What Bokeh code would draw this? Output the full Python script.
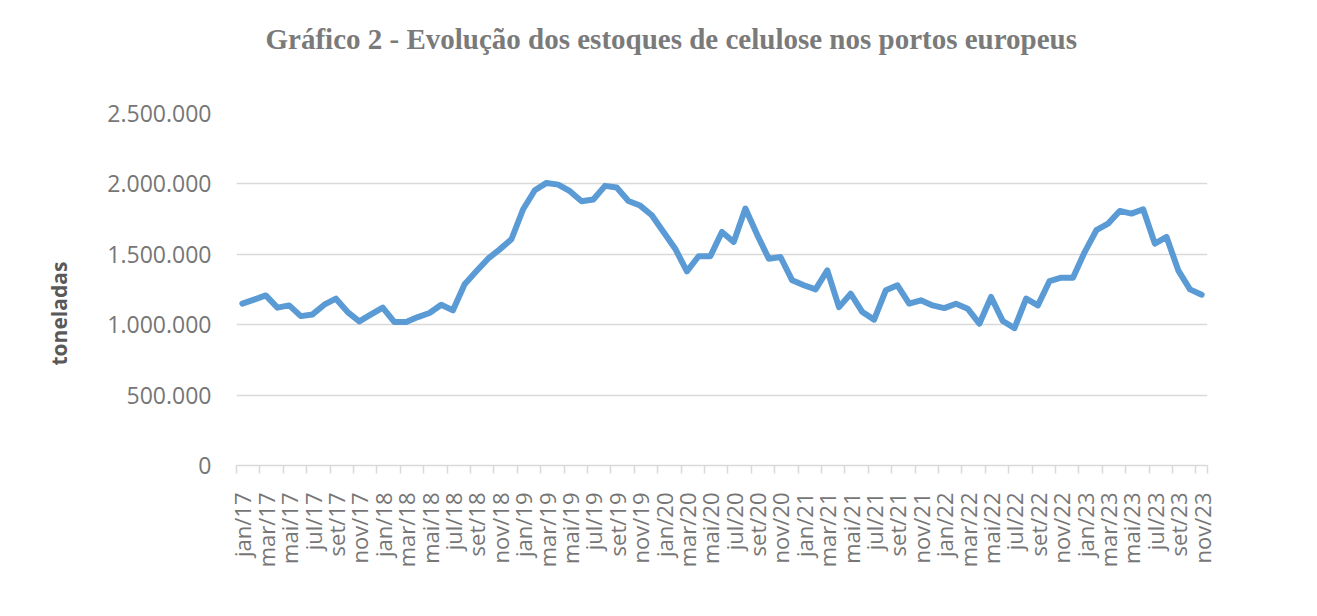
import math
from bokeh.plotting import figure
from bokeh.models import FixedTicker, Range1d, Title
from bokeh.embed import file_html
from bokeh.resources import INLINE

# ---- data ----
month_names = ["jan", "fev", "mar", "abr", "mai", "jun", "jul", "ago", "set", "out", "nov", "dez"]
years = ["17", "18", "19", "20", "21", "22", "23"]
months = [f"{m}/{y}" for y in years for m in month_names][:83]  # jan/17 .. nov/23

stocks = [
    1150000, 1178000, 1208000, 1121000, 1137000, 1061000, 1073000, 1142000, 1185000, 1090000, 1024000, 1073000,  # 2017
    1121000, 1019000, 1019000, 1054000, 1083000, 1142000, 1102000, 1287000, 1379000, 1469000, 1535000, 1607000,  # 2018
    1820000, 1955000, 2007000, 1995000, 1948000, 1877000, 1889000, 1986000, 1974000, 1879000, 1846000, 1777000,  # 2019
    1659000, 1540000, 1379000, 1486000, 1486000, 1659000, 1588000, 1825000, 1640000, 1469000, 1481000, 1315000,  # 2020
    1280000, 1251000, 1386000, 1125000, 1220000, 1090000, 1036000, 1244000, 1280000, 1149000, 1173000, 1137000,  # 2021
    1118000, 1149000, 1114000, 1007000, 1197000, 1026000, 976000, 1185000, 1137000, 1310000, 1334000, 1334000,   # 2022
    1516000, 1671000, 1718000, 1808000, 1789000, 1820000, 1576000, 1623000, 1386000, 1251000, 1213000,           # 2023
]

y_ticks = [0, 500000, 1000000, 1500000, 2000000, 2500000]
y_tick_labels = ["0", "500.000", "1.000.000", "1.500.000", "2.000.000", "2.500.000"]

title_text = "Gráfico 2 - Evolução dos estoques de celulose nos portos europeus"
y_title = "toneladas"

# ---- figure ----
x_idx = list(range(len(months)))
label_idx = x_idx[::2]
boundaries = [i - 0.5 for i in x_idx[::2]] + [len(months) - 0.5]

p = figure(width=1309, height=608, output_backend="svg", toolbar_location=None,
           x_range=Range1d(-0.5, len(months) - 0.5), y_range=Range1d(0, 2500000),
           min_border_left=236, min_border_right=102, min_border_top=113, min_border_bottom=143)

p.title.text = title_text
p.title.text_font = "Liberation Serif"
p.title.text_font_style = "bold"
p.title.text_font_size = "29px"
p.title.text_color = "#7a7a7a"
p.title.align = "left"
p.title.offset = 29
p.title.vertical_align = "bottom"
p.title.standoff = 10

# blank spacer between the title and the plot area
p.add_layout(Title(text=" ", text_font_size="10px", standoff=41), "above")

p.line(x_idx, stocks, line_color="#5b9bd5", line_width=6, line_join="round", line_cap="round")

p.outline_line_color = None
p.background_fill_color = "white"
p.border_fill_color = "white"

# x axis
p.xgrid.grid_line_color = None
xa = p.xaxis[0]
xa.ticker = FixedTicker(ticks=label_idx, minor_ticks=boundaries)
xa.major_label_overrides = {i: months[i] for i in label_idx}
xa.major_label_orientation = math.pi / 2
xa.major_label_text_font = "Open Sans"
xa.major_label_text_font_size = "22px"
xa.major_label_text_color = "#767676"
xa.major_tick_line_color = None
xa.major_tick_out = 8
xa.major_tick_in = 0
xa.minor_tick_line_color = "#d9d9d9"
xa.minor_tick_line_width = 1.5
xa.minor_tick_out = 8
xa.minor_tick_in = 0
xa.axis_line_color = "#d9d9d9"
xa.axis_line_width = 1.5
xa.major_label_standoff = 19

# y axis
ya = p.yaxis[0]
ya.ticker = FixedTicker(ticks=y_ticks)
ya.major_label_overrides = {v: s for v, s in zip(y_ticks, y_tick_labels)}
ya.major_label_text_font = "Open Sans"
ya.major_label_text_font_size = "23px"
ya.major_label_text_color = "#767676"
ya.axis_line_color = None
ya.major_tick_line_color = None
ya.minor_tick_line_color = None
ya.major_tick_out = 0
ya.major_tick_in = 0
ya.major_label_standoff = 25
p.ygrid.grid_line_color = "#d9d9d9"
p.ygrid.grid_line_width = 1.5

# y axis title as a side title, set a little below the frame centre as in the reference
p.add_layout(Title(text=y_title, align="left", offset=100, vertical_align="bottom",
                   standoff=64, text_font="Open Sans", text_font_style="bold",
                   text_font_size="21px", text_color="#595959"), "left")

open("out.html", "w").write(file_html(p, INLINE))
